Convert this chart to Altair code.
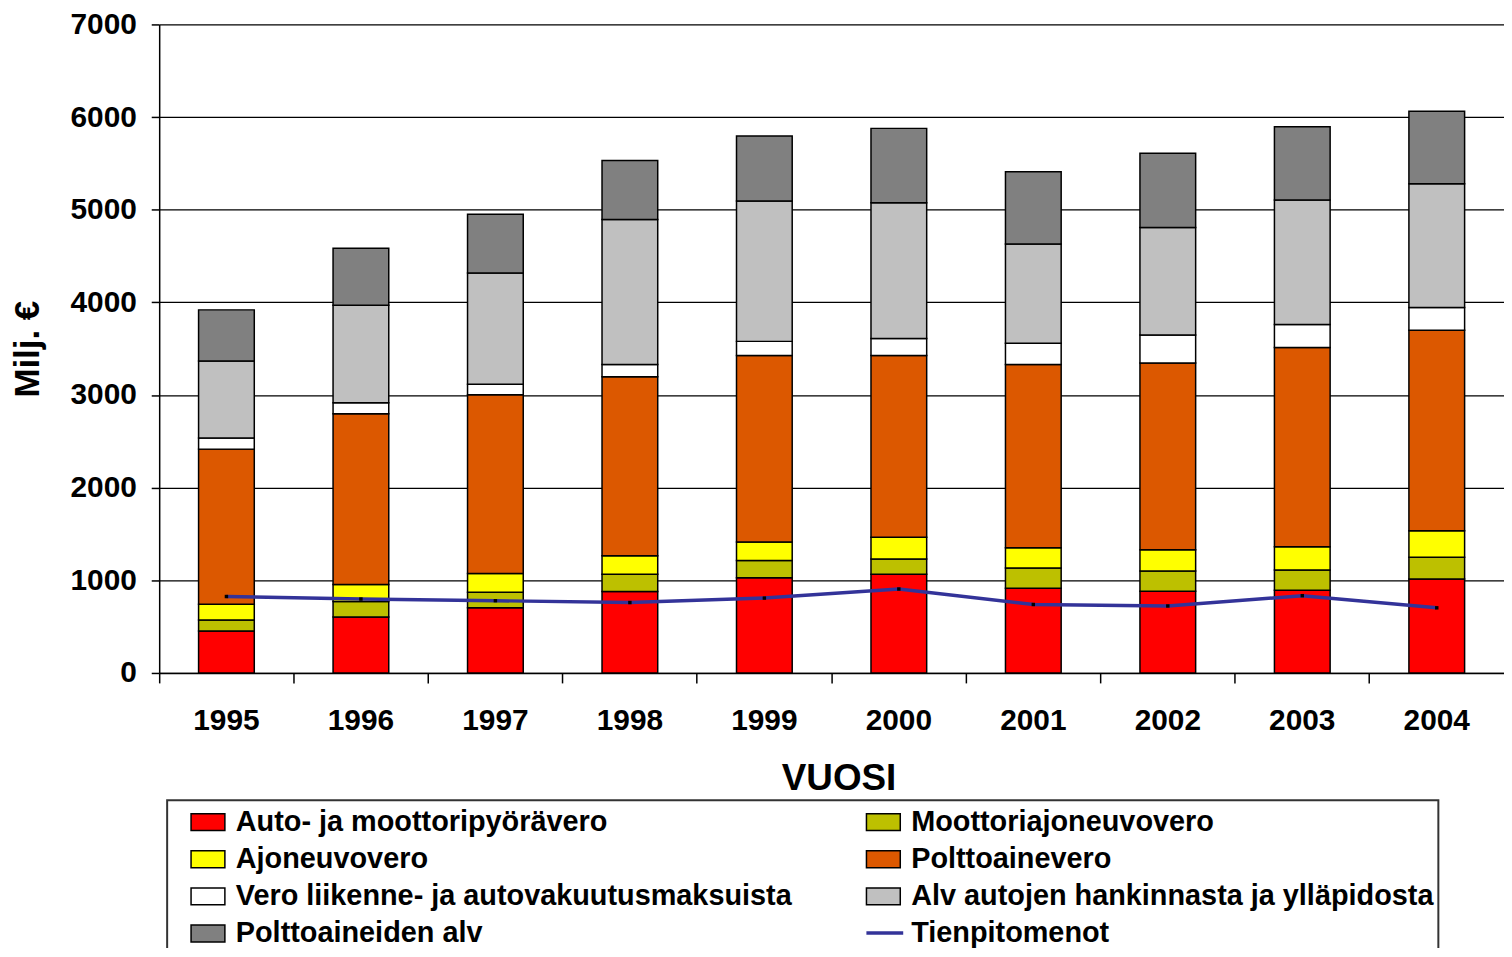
import altair as alt
import pandas as pd

years = ["1995", "1996", "1997", "1998", "1999", "2000", "2001", "2002", "2003", "2004"]

series_names = [
    "Auto- ja moottoripyörävero",
    "Moottoriajoneuvovero",
    "Ajoneuvovero",
    "Polttoainevero",
    "Vero liikenne- ja autovakuutusmaksuista",
    "Alv autojen hankinnasta ja ylläpidosta",
    "Polttoaineiden alv",
]
series_colors = ["#FF0000", "#BDC000", "#FFFF00", "#DC5800", "#FFFFFF", "#C0C0C0", "#808080"]

auto_vero = [454, 605, 705, 878, 1027, 1066, 914, 882, 894, 1013]
moottori_vero = [118, 165, 165, 188, 187, 164, 218, 219, 218, 235]
ajoneuvo_vero = [169, 186, 204, 199, 199, 234, 219, 230, 251, 286]
polttoaine_vero = [1675, 1843, 1929, 1932, 2014, 1963, 1978, 2014, 2149, 2165]
vakuutus_vero = [121, 118, 114, 132, 152, 183, 231, 302, 250, 246]
alv_autot = [831, 1052, 1199, 1566, 1515, 1464, 1069, 1160, 1343, 1335]
alv_poltto = [551, 615, 634, 636, 702, 804, 782, 803, 791, 783]

line_name = "Tienpitomenot"
tienpitomenot = [825, 798, 780, 760, 808, 906, 739, 723, 834, 703]

# stacking order bottom -> top
stack_series = [auto_vero, moottori_vero, ajoneuvo_vero, polttoaine_vero,
                vakuutus_vero, alv_autot, alv_poltto]
# legend order (legend fills column by column, 2 columns)
legend_idx = [0, 2, 4, 6, 1, 3, 5]
legend_order = [series_names[i] for i in legend_idx]
legend_colors = [series_colors[i] for i in legend_idx]

rows = []
for si, (name, vals) in enumerate(zip(series_names, stack_series)):
    for y, v in zip(years, vals):
        rows.append({"year": y, "series": name, "value": v, "stack": si})
df = pd.DataFrame(rows)
line_df = pd.DataFrame({"year": years, "value": tienpitomenot, "lbl": [line_name] * len(years)})

FONT = "Liberation Sans"

x_axis = alt.Axis(
    labelAngle=0, labelFont=FONT, labelFontSize=30, labelFontWeight="bold", labelColor="black",
    labelPadding=23, tickSize=10, tickColor="black", tickWidth=1.5, bandPosition=0,
    domainColor="black", domainWidth=1.5, grid=False,
    title="VUOSI", titleFont=FONT, titleFontSize=37, titleFontWeight="bold", titleColor="black",
    titleX=683, titleY=106, titleAlign="center", titleBaseline="middle",
)
y_axis = alt.Axis(
    values=[0, 1000, 2000, 3000, 4000, 5000, 6000, 7000], format="d",
    labelFont=FONT, labelFontSize=30, labelFontWeight="bold", labelColor="black",
    labelPadding=15, tickSize=8, tickColor="black", tickWidth=1.5,
    domainColor="black", domainWidth=1.5, grid=True, gridColor="black", gridWidth=1.2,
    title="Milj. €", titleFont=FONT, titleFontSize=35, titleFontWeight="bold", titleColor="black",
    titleX=-132, titleY=326, titleAngle=270, titleAlign="center", titleBaseline="middle",
)

x_scale = alt.Scale(paddingInner=0, paddingOuter=0)
rect_path = "M0.12,-0.5H2.12V0.5H0.12Z"

bars = alt.Chart(df).mark_bar(stroke="black", strokeWidth=1.5, size=56, opacity=1).encode(
    x=alt.X("year:O", axis=x_axis, scale=x_scale),
    y=alt.Y("value:Q", stack="zero", axis=y_axis, scale=alt.Scale(domain=[0, 7000], nice=False)),
    fill=alt.Fill(
        "series:N",
        scale=alt.Scale(domain=legend_order, range=legend_colors),
        legend=alt.Legend(
            title=None, orient="none", legendX=8, legendY=780, columns=2,
            columnPadding=54, rowPadding=4.3, padding=4,
            strokeColor="#333333",
            symbolType=rect_path, symbolSize=1156, symbolStrokeColor="black",
            symbolStrokeWidth=1.5, symbolOpacity=1,
            labelFont=FONT, labelFontSize=29, labelFontWeight="bold", labelColor="black",
            labelOffset=29, labelLimit=1000,
        ),
    ),
    order=alt.Order("stack:Q", sort="ascending"),
)

line = alt.Chart(line_df).mark_line(strokeWidth=3.5).encode(
    x=alt.X("year:O", scale=x_scale),
    y=alt.Y("value:Q"),
    stroke=alt.Stroke(
        "lbl:N",
        scale=alt.Scale(domain=[line_name], range=["#333399"]),
        legend=alt.Legend(
            title=None, orient="none", legendX=709, legendY=893, padding=0,
            symbolType="stroke", symbolSize=1369, symbolStrokeWidth=3.5,
            labelFont=FONT, labelFontSize=29, labelFontWeight="bold", labelColor="black",
            labelOffset=6, labelLimit=1000,
        ),
    ),
)

pts = alt.Chart(line_df).mark_square(size=12, color="black", opacity=1).encode(
    x=alt.X("year:O", scale=x_scale),
    y=alt.Y("value:Q"),
)

chart = alt.layer(bars, line, pts).properties(
    width=1352, height=652,
    autosize=alt.AutoSizeParams(type="none"),
    padding={"left": 152, "top": 14, "right": 0, "bottom": 274},
).configure_view(stroke=None).configure_legend(strokeWidth=2)

chart.save("out.html", embed_options={"renderer": "svg", "actions": False})
